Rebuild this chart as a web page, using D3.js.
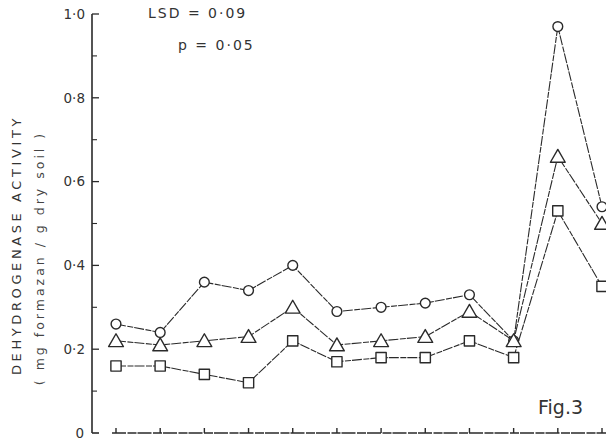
<!DOCTYPE html>
<html>
<head>
<meta charset="utf-8">
<script src="https://cdn.jsdelivr.net/npm/d3@7"></script>
<style>
  html, body { margin: 0; padding: 0; background: #fff; }
  svg { display: block; font-family: "DejaVu Sans", sans-serif; }
</style>
</head>
<body>
<svg id="chart" width="606" height="440"></svg>
<script>
"use strict";

// ── Data ──────────────────────────────────────────────────────────────────────
const samples = d3.range(1, 13);            // 12 sampling points along x
const circleSeries   = [0.26, 0.24, 0.36, 0.34, 0.40, 0.29, 0.30, 0.31, 0.33, 0.22, 0.97, 0.54];
const triangleSeries = [0.22, 0.21, 0.22, 0.23, 0.30, 0.21, 0.22, 0.23, 0.29, 0.22, 0.66, 0.50];
const squareSeries   = [0.16, 0.16, 0.14, 0.12, 0.22, 0.17, 0.18, 0.18, 0.22, 0.18, 0.53, 0.35];
const yMajorTicks = [0, 0.2, 0.4, 0.6, 0.8, 1.0];
const yMinorTicks = [0.1, 0.3, 0.5, 0.7, 0.9];

const svg = d3.select("#chart");
const ink = "#2a2a2a";

// ── Scales ───────────────────────────────────────────────────────────────────
const x = d3.scalePoint().domain(samples).range([116, 602]);
const y = d3.scaleLinear().domain([0, 1]).range([433, 14]);
const axisX = 92;

// ── Y axis ───────────────────────────────────────────────────────────────────
const yAxis = svg.append("g").attr("transform", `translate(${axisX},0)`);
yAxis.append("line")
  .attr("y1", y(1)).attr("y2", y(0))
  .attr("stroke", ink).attr("stroke-width", 1.6);
// small foot at the origin
yAxis.append("line")
  .attr("x1", 0).attr("x2", 7).attr("y1", y(0)).attr("y2", y(0))
  .attr("stroke", ink).attr("stroke-width", 1.6);

yAxis.selectAll(".major").data(yMajorTicks.filter(d => d > 0)).enter().append("line")
  .attr("x1", 0).attr("x2", 7)
  .attr("y1", d => y(d)).attr("y2", d => y(d))
  .attr("stroke", ink).attr("stroke-width", 1.3);

yAxis.selectAll(".minor").data(yMinorTicks).enter().append("line")
  .attr("x1", 0).attr("x2", 5)
  .attr("y1", d => y(d)).attr("y2", d => y(d))
  .attr("stroke", ink).attr("stroke-width", 1.1);

yAxis.selectAll(".lbl").data(yMajorTicks).enter().append("text")
  .attr("x", d => d === 0 ? -8 : -7)
  .attr("y", d => y(d))
  .attr("dy", "0.36em")
  .attr("text-anchor", "end")
  .attr("font-size", 13.5)
  .attr("fill", "#333")
  .text(d => d === 0 ? "0" : d3.format(".1f")(d).replace(".", "·"));

// ── X axis ───────────────────────────────────────────────────────────────────
const xAxis = svg.append("g");
xAxis.append("line")
  .attr("x1", 112).attr("x2", 606)
  .attr("y1", y(0)).attr("y2", y(0))
  .attr("stroke", ink).attr("stroke-width", 1.4)
  .attr("stroke-dasharray", "14 1.5 9 1");
xAxis.selectAll(".xt").data(samples).enter().append("line")
  .attr("x1", d => x(d)).attr("x2", d => x(d))
  .attr("y1", y(0)).attr("y2", y(0) - 5)
  .attr("stroke", ink).attr("stroke-width", 1.4);

// ── Y axis title ─────────────────────────────────────────────────────────────
svg.append("text")
  .attr("transform", "translate(21,245) rotate(-90)")
  .attr("text-anchor", "middle")
  .attr("font-size", 13)
  .attr("letter-spacing", 3.6)
  .attr("fill", "#333")
  .text("DEHYDROGENASE  ACTIVITY");

svg.append("text")
  .attr("transform", "translate(44,258) rotate(-90)")
  .attr("text-anchor", "middle")
  .attr("font-size", 12.5)
  .attr("letter-spacing", 3)
  .attr("fill", "#444")
  .text("( mg formazan / g dry soil )");

// ── Annotations ──────────────────────────────────────────────────────────────
svg.append("text")
  .attr("x", 148).attr("y", 18)
  .attr("font-size", 14).attr("letter-spacing", 2)
  .attr("fill", "#333")
  .text("LSD  = 0·09");
svg.append("text")
  .attr("x", 178).attr("y", 50)
  .attr("font-size", 14).attr("letter-spacing", 2)
  .attr("fill", "#333")
  .text("p = 0·05");
svg.append("text")
  .attr("x", 538).attr("y", 414)
  .attr("font-size", 19)
  .attr("fill", "#333")
  .text("Fig.3");

// ── Series ───────────────────────────────────────────────────────────────────
const line = d3.line()
  .x((d, i) => x(samples[i]))
  .y(d => y(d));

const series = [
  { name: "circle",   values: circleSeries,   symbol: d3.symbolCircle,   size: 75 },
  { name: "triangle", values: triangleSeries, symbol: d3.symbolTriangle, size: 95 },
  { name: "square",   values: squareSeries,   symbol: d3.symbolSquare,   size: 105 }
];

const plot = svg.append("g");

series.forEach(s => {
  plot.append("path")
    .attr("d", line(s.values))
    .attr("fill", "none")
    .attr("stroke", ink)
    .attr("stroke-width", 1.1)
    .attr("stroke-dasharray", "10 1.5 6 1");
});

series.forEach(s => {
  plot.selectAll(`.m-${s.name}`).data(s.values).enter().append("path")
    .attr("class", `m-${s.name}`)
    .attr("transform", (d, i) => `translate(${x(samples[i])},${y(d) + (s.name === "triangle" ? 1.5 : 0)})`)
    .attr("d", d3.symbol().type(s.symbol).size(s.size))
    .attr("fill", "#fff")
    .attr("stroke", ink)
    .attr("stroke-width", 1.4)
    .attr("stroke-linejoin", "round");
});
</script>
</body>
</html>
